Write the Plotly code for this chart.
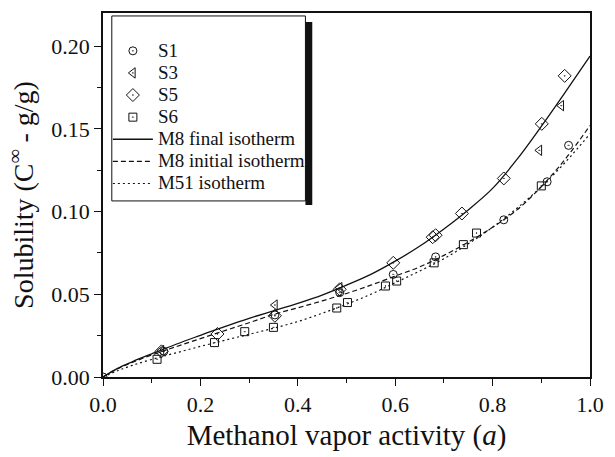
import plotly.graph_objects as go

# ---- data ----
s1_a = [0.0, 0.125, 0.353, 0.486, 0.596, 0.683, 0.823, 0.912, 0.956]
s1_v = [0.0, 0.0155, 0.0375, 0.051, 0.062, 0.0726, 0.095, 0.118, 0.140]

s3_a = [0.12, 0.353, 0.486, 0.896, 0.941]
s3_v = [0.016, 0.0435, 0.054, 0.137, 0.164]

s5_a = [0.12, 0.235, 0.353, 0.486, 0.596, 0.677, 0.683, 0.737, 0.823, 0.901, 0.948]
s5_v = [0.0155, 0.026, 0.037, 0.053, 0.069, 0.0845, 0.0857, 0.0988, 0.120, 0.153, 0.182]

s6_a = [0.111, 0.229, 0.291, 0.35, 0.48, 0.502, 0.58, 0.603, 0.68, 0.74, 0.767, 0.90]
s6_v = [0.0107, 0.0208, 0.0274, 0.030, 0.0417, 0.045, 0.055, 0.058, 0.069, 0.080, 0.087, 0.1155]

curve_a = [0, 0.03, 0.06, 0.1, 0.15, 0.2, 0.25, 0.3, 0.35, 0.4, 0.45, 0.5,
           0.55, 0.6, 0.65, 0.7, 0.75, 0.8, 0.85, 0.9, 0.95, 1.0]
m8_final = [0, 0.0052, 0.0092, 0.0140, 0.0198, 0.0252, 0.0305, 0.0355, 0.0400, 0.0445,
            0.0495, 0.0555, 0.0620, 0.0700, 0.0790, 0.0895, 0.1010, 0.1140, 0.1315,
            0.1515, 0.1725, 0.1940]
m8_initial = [0, 0.0050, 0.0088, 0.0133, 0.0183, 0.0232, 0.0280, 0.0328, 0.0378, 0.0418,
              0.0460, 0.0505, 0.0555, 0.0610, 0.0665, 0.0735, 0.0815, 0.0905, 0.1010,
              0.1150, 0.1320, 0.1520]
m51 = [0, 0.0038, 0.0070, 0.0106, 0.0146, 0.0185, 0.0222, 0.0258, 0.0295, 0.0335,
       0.0385, 0.0440, 0.0500, 0.0570, 0.0640, 0.0715, 0.0805, 0.0905, 0.1020,
       0.1150, 0.1300, 0.1470]

x_ticks = [0.0, 0.2, 0.4, 0.6, 0.8, 1.0]
x_ticklabels = ["0.0", "0.2", "0.4", "0.6", "0.8", "1.0"]
y_ticks = [0.0, 0.05, 0.10, 0.15, 0.20]
y_ticklabels = ["0.00", "0.05", "0.10", "0.15", "0.20"]

series_names = ["S1", "S3", "S5", "S6", "M8 final isotherm", "M8 initial isotherm", "M51 isotherm"]

FONT = "Liberation Serif"
BLACK = "#111111"
LEG_TXT = 19

def lab(t):
    return '<span style="font-size:%dpx">%s</span>' % (LEG_TXT, t)

fig = go.Figure()

def mk(name, a, v, symbol, size):
    fig.add_trace(go.Scatter(
        x=a, y=v, mode="markers", name=lab(name),
        marker=dict(symbol=symbol, size=size, color=BLACK,
                    line=dict(color=BLACK, width=1))))

mk(series_names[0], s1_a, s1_v, "circle-open-dot", 8)
mk(series_names[1], s3_a, s3_v, "triangle-left-open-dot", 9)
mk(series_names[2], s5_a, s5_v, "diamond-open-dot", 10)
mk(series_names[3], s6_a, s6_v, "square-open-dot", 8)

fig.add_trace(go.Scatter(x=curve_a, y=m8_final, mode="lines", name=lab(series_names[4]),
                         line=dict(color=BLACK, width=1.3, shape="spline")))
fig.add_trace(go.Scatter(x=curve_a, y=m8_initial, mode="lines", name=lab(series_names[5]),
                         line=dict(color=BLACK, width=1.2, dash="5px,3px", shape="spline")))
fig.add_trace(go.Scatter(x=curve_a, y=m51, mode="lines", name=lab(series_names[6]),
                         line=dict(color=BLACK, width=1.2, dash="2px,3px", shape="spline")))

# plot area in pixels
L, R, T, B = 103, 601, 11, 379
W, H = R - L, B - T
def px(x):
    return (x - L) / W
def py(y):
    return (B - y) / H

box_l, box_r, box_t, box_b = 112, 310, 14, 201
shapes = [
    dict(type="rect", xref="paper", yref="paper", x0=px(box_r), x1=px(box_r + 7),
         y0=py(box_b + 4), y1=py(box_t + 6), fillcolor=BLACK, line=dict(width=0), layer="above"),
    dict(type="rect", xref="paper", yref="paper", x0=px(box_l), x1=px(box_r),
         y0=py(box_b), y1=py(box_t), fillcolor="rgba(0,0,0,0)",
         line=dict(color=BLACK, width=1), layer="above"),
]

fig.update_layout(
    width=615, height=457,
    margin=dict(l=L, r=615 - R, t=T, b=457 - B),
    paper_bgcolor="white", plot_bgcolor="white",
    font=dict(family=FONT, color=BLACK, size=14.7),
    showlegend=True,
    legend=dict(x=px(108), y=py(33), xanchor="left", yanchor="top",
                bgcolor="rgba(0,0,0,0)", borderwidth=0,
                font=dict(family=FONT, size=14.7), itemwidth=40, tracegroupgap=0),
    shapes=shapes,
    xaxis=dict(range=[0, 1], tickvals=x_ticks, ticktext=x_ticklabels,
               ticks="outside", ticklen=7, tickwidth=1.2, tickcolor=BLACK,
               showline=True, linecolor=BLACK, linewidth=1.5, mirror=True,
               showgrid=False, zeroline=False,
               minor=dict(dtick=0.1, ticks="outside", ticklen=4, tickcolor=BLACK, tickwidth=1),
               tickfont=dict(family=FONT, size=22),
               title=dict(text="Methanol vapor activity (<i>a</i>)",
                          font=dict(family=FONT, size=29), standoff=9)),
    yaxis=dict(range=[0, 0.22], tickvals=y_ticks, ticktext=y_ticklabels,
               ticks="outside", ticklen=7, tickwidth=1.2, tickcolor=BLACK,
               showline=True, linecolor=BLACK, linewidth=1.5, mirror=True,
               showgrid=False, zeroline=False,
               minor=dict(dtick=0.025, ticks="outside", ticklen=4, tickcolor=BLACK, tickwidth=1),
               tickfont=dict(family=FONT, size=22),
               title=dict(text="Solubility (C<sup>∞</sup> - g/g)",
                          font=dict(family=FONT, size=28), standoff=10)),
)

fig.write_html("out.html")
